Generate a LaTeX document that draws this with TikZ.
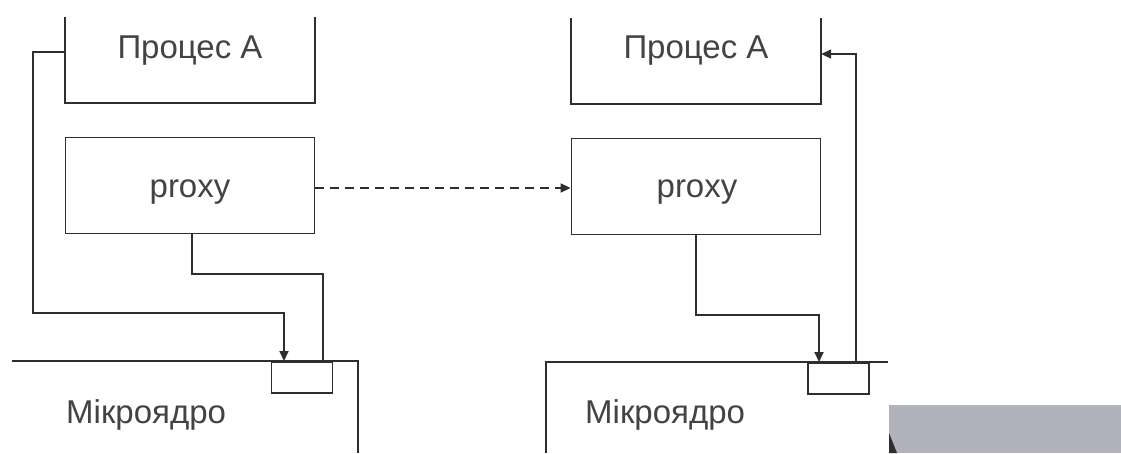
\documentclass[tikz,border=0pt]{standalone}
\usepackage{fontspec}
\setmainfont{Liberation Sans}
\usetikzlibrary{arrows.meta}
\definecolor{ink}{HTML}{2E2E2E}
\definecolor{panel}{RGB}{176,179,187}
\tikzset{
  wire/.style={draw=ink, line width=1.9pt},
  tip/.style={-{Triangle[length=10pt,width=9pt]}},
  lbl/.style={inner sep=0pt, text=ink!90, font=\fontsize{33}{40}\selectfont},
  procbox/.style={draw=none, minimum width=250pt, minimum height=86pt, inner sep=0pt},
  proxybox/.style={wire, minimum width=249pt, minimum height=96pt, inner sep=0pt},
  portbox/.style={wire, minimum width=61pt, minimum height=31pt, inner sep=0pt},
}
\begin{document}
\begin{tikzpicture}[x=1pt, y=-1pt]
\useasboundingbox (0,0) rectangle (1121,453);

% ---------- left host ----------
\node[procbox] (pA) at (190,60) {};
\draw[wire] (pA.north west) -- (pA.south west) -- (pA.south east) -- (pA.north east);
\node[lbl, anchor=base] (pAt) at (190,58) {Процес А};

\node[proxybox] (xA) at (190,185.5) {};
\node[lbl, anchor=base] (xAt) at (190,197) {proxy};

\coordinate (kAl) at (12,361);
\coordinate (kAr) at (358,361);
\coordinate (kAb) at (358,453);
\draw[wire] (kAl) -- (kAr) -- (kAb);
\node[portbox, anchor=north] (portA) at (302,361) {};
\node[lbl, anchor=base west] (kAt) at (66,423) {Мікроядро};

% process -> kernel port
\draw[wire, tip] (pA.west |- 0,52) -- (33,52) -- (33,313) -- (284,313) -- (portA.north -| 284,0);
% proxy -> kernel port
\draw[wire] (xA.south -| 192,0) -- (192,274) -- (323,274) -- (portA.north -| 323,0);

% ---------- right host ----------
\node[procbox] (pB) at (696,61) {};
\draw[wire] (pB.north west) -- (pB.south west) -- (pB.south east) -- (pB.north east);
\node[lbl, anchor=base] (pBt) at (696,58) {Процес А};

\node[proxybox] (xB) at (696,186.5) {};
\node[lbl, anchor=base] (xBt) at (697,197) {proxy};

\coordinate (kBl) at (546,453);
\coordinate (kBt) at (546,362);
\coordinate (kBr) at (888,362);
\draw[wire] (kBl) -- (kBt) -- (kBr);
\node[portbox, anchor=north] (portB) at (838.5,362) {};
\node[lbl, anchor=base west] (kBtx) at (585,423) {Мікроядро};

% proxy -> kernel port
\draw[wire, tip] (xB.south -| 696,0) -- (696,315) -- (819,315) -- (portB.north -| 819,0);
% kernel port -> process
\draw[wire, tip] (portB.north -| 856,0) -- (856,54) -- (pB.east |- 0,54);

% proxy to proxy
\draw[wire, tip, dash pattern=on 9pt off 6pt] (xA.east |- 0,188) -- (xB.west |- 0,188);

% grey panel in the lower right corner
\fill[panel] (889,405) rectangle (1121,453);
\fill[ink] (889,433) -- (897,453) -- (889,453) -- cycle;
\end{tikzpicture}
\end{document}
